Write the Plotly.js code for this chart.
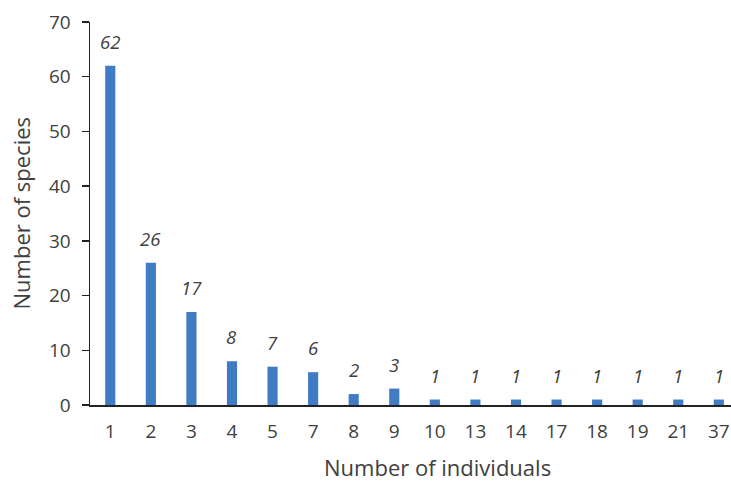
<!DOCTYPE html>
<html>
<head>
<meta charset="utf-8">
<script src="https://cdn.plot.ly/plotly-3.0.1.min.js"></script>
<style>html,body{margin:0;padding:0;background:#fff;}#chart{width:731px;height:481px;}</style>
</head>
<body>
<div id="chart"></div>
<script>
const categories = ["1","2","3","4","5","7","8","9","10","13","14","17","18","19","21","37"];
const speciesCounts = [62,26,17,8,7,6,2,3,1,1,1,1,1,1,1,1];
const yTickValues = [0,10,20,30,40,50,60,70];
const xTitle = "Number of individuals";
const yTitle = "Number of species";

const FONT = "Open Sans, Noto Sans, sans-serif";
const TXT = "#404040";

const trace = {
  type: "bar",
  x: categories,
  y: speciesCounts,
  marker: {color: "#3f7cc3"},
  hoverinfo: "none"
};

const labelAnns = categories.map((c, i) => ({
  x: i, y: speciesCounts[i], xref: "x", yref: "y",
  text: String(speciesCounts[i]), showarrow: false,
  yanchor: "bottom", yshift: 10,
  font: {family: FONT, size: 18.5, color: TXT, style: "italic"}
}));

const layout = {
  width: 731, height: 481,
  margin: {l: 89.5, r: 0, t: 22, b: 76, pad: 0},
  paper_bgcolor: "#fff", plot_bgcolor: "#fff",
  showlegend: false,
  bargap: 0.75,
  font: {family: FONT, color: TXT},
  xaxis: {
    type: "category",
    range: [-0.5, 15.3],
    showline: true, linecolor: "#222", linewidth: 1.5,
    ticks: "", showgrid: false, zeroline: false,
    tickfont: {family: FONT, size: 19, color: TXT},
    ticklabelstandoff: 9
  },
  yaxis: {
    range: [0, 70],
    tickvals: yTickValues,
    showline: true, linecolor: "#222", linewidth: 1.5,
    ticks: "outside", ticklen: 7, tickcolor: "#222", tickwidth: 1.5,
    showgrid: false, zeroline: false,
    tickfont: {family: FONT, size: 19, color: TXT},
    ticklabelstandoff: 7
  },
  annotations: labelAnns.concat([
    {x: 0.542, y: 0, xref: "paper", yref: "paper", yanchor: "middle", yshift: -62,
     text: xTitle, showarrow: false, font: {family: FONT, size: 22, color: TXT}},
    {x: 0, y: 0.5, xref: "paper", yref: "paper", xanchor: "center", xshift: -70,
     text: yTitle, textangle: -90, showarrow: false, font: {family: FONT, size: 22, color: TXT}}
  ])
};

Plotly.newPlot("chart", [trace], layout, {staticPlot: true, displayModeBar: false});
</script>
</body>
</html>
